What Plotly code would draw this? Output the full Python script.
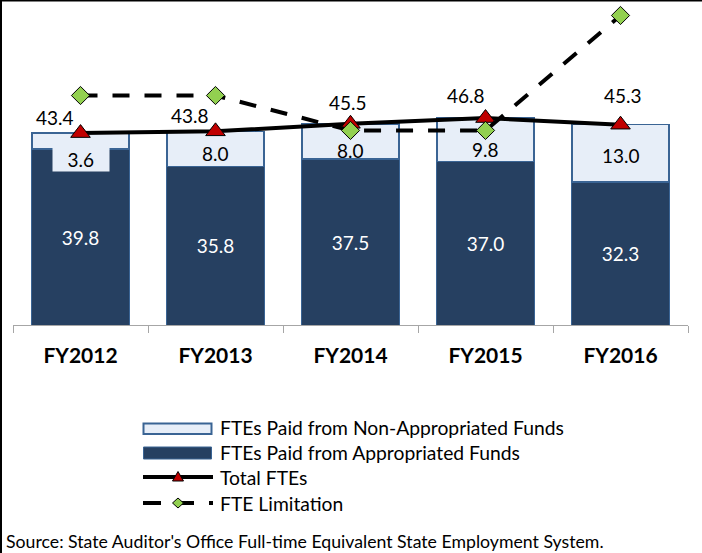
import plotly.graph_objects as go

years = ["FY2012", "FY2013", "FY2014", "FY2015", "FY2016"]
appropriated = [39.8, 35.8, 37.5, 37.0, 32.3]
non_appropriated = [3.6, 8.0, 8.0, 9.8, 13.0]
total_ftes = [43.4, 43.8, 45.5, 46.8, 45.3]
fte_limitation = [51.9, 51.9, 44.0, 44.0, 70.0]

legend_labels = ["FTEs Paid from Non-Appropriated Funds", "FTEs Paid from Appropriated Funds",
                 "Total FTEs", "FTE Limitation"]
source_text = "Source: State Auditor's Office Full-time Equivalent State Employment System."

# label offsets (pixels) - styling only
total_dx = [-26, -26, -3, -20, 2]
total_dy = [16, 16, 21, 23, 29]
non_dy = [-18, -4, -9, -10, -2]

DARK = "#264061"
LIGHT = "#E7EEF8"
EDGE = "#3A6494"
RED = "#C00000"
GREEN = "#92D050"
FONT = "Lato"

W, H = 702, 553
ML, MR, MT, MB = 13, 14, 0, 228
PW, PH = W - ML - MR, H - MT - MB


def X(px):
    return (px - ML) / PW


def Y(py):
    return (MT + PH - py) / PH


fig = go.Figure()
fig.add_trace(go.Bar(
    x=years, y=appropriated, name=legend_labels[1],
    marker=dict(color=DARK, line=dict(color=EDGE, width=1)),
    text=[f"{v:.1f}" for v in appropriated], textposition="inside",
    insidetextanchor="middle", textangle=0,
    textfont=dict(color="white", size=19, family=FONT),
))
fig.add_trace(go.Bar(
    x=years, y=non_appropriated, name=legend_labels[0],
    marker=dict(color=LIGHT, line=dict(color=EDGE, width=1.5)),
))
fig.add_trace(go.Scatter(
    x=years, y=total_ftes, name=legend_labels[2], mode="lines+markers",
    line=dict(color="black", width=4),
    marker=dict(symbol="triangle-up", size=17, color=RED,
                line=dict(color="black", width=1)),
    cliponaxis=False,
))
fig.add_trace(go.Scatter(
    x=years, y=fte_limitation, name=legend_labels[3], mode="lines+markers",
    line=dict(color="black", width=4, dash="17px,15px"),
    marker=dict(symbol="diamond", size=14, color=GREEN,
                line=dict(color="black", width=1)),
    cliponaxis=False,
))

annotations = []
for i, yr in enumerate(years):
    annotations.append(dict(
        x=yr, y=total_ftes[i], xref="x", yref="y", text=f"{total_ftes[i]:.1f}",
        showarrow=False, xshift=total_dx[i], yshift=total_dy[i],
        font=dict(size=19, family=FONT, color="black"),
    ))
    small = non_appropriated[i] < 5
    txt = f"{non_appropriated[i]:.1f}"
    if small:
        txt = "&nbsp;&nbsp;&nbsp;" + txt + "&nbsp;&nbsp;&nbsp;"
    annotations.append(dict(
        x=yr, y=appropriated[i] + non_appropriated[i] / 2, xref="x", yref="y",
        text=txt, showarrow=False, yshift=non_dy[i],
        font=dict(size=19, family=FONT, color="black"),
        bgcolor=LIGHT if small else "rgba(0,0,0,0)", borderpad=0,
    ))

# custom legend text
legend_rows = [427, 452, 477, 503]
for lab, ry in zip(legend_labels, legend_rows):
    annotations.append(dict(
        xref="paper", yref="paper", x=X(218), y=Y(ry), text=lab,
        showarrow=False, xanchor="left", yanchor="middle",
        font=dict(size=19.3, family=FONT, color="black"),
    ))
annotations.append(dict(
    xref="paper", yref="paper", x=X(4), y=Y(541), text=source_text,
    showarrow=False, xanchor="left", yanchor="middle",
    font=dict(size=17.7, family=FONT, color="black"),
))

shapes = [
    # outer border (top and left)
    dict(type="line", xref="paper", yref="paper", x0=X(0), x1=X(W), y0=Y(0.5), y1=Y(0.5),
         line=dict(color="black", width=2)),
    dict(type="line", xref="paper", yref="paper", x0=X(1), x1=X(1), y0=Y(0), y1=Y(H),
         line=dict(color="black", width=2)),
    # legend symbols
    dict(type="rect", xref="paper", yref="paper", x0=X(143.5), x1=X(211.5), y0=Y(434), y1=Y(423.5),
         fillcolor=LIGHT, line=dict(color=EDGE, width=2)),
    dict(type="rect", xref="paper", yref="paper", x0=X(143.5), x1=X(211.5), y0=Y(459), y1=Y(447),
         fillcolor=DARK, line=dict(color=EDGE, width=1)),
    dict(type="line", xref="paper", yref="paper", x0=X(143), x1=X(213), y0=Y(477), y1=Y(477),
         line=dict(color="black", width=4)),
    dict(type="path", xref="paper", yref="paper", xsizemode="pixel", ysizemode="pixel",
         xanchor=X(178), yanchor=Y(477), path="M-5.5,-4 L5.5,-4 L0,5.5 Z",
         fillcolor=RED, line=dict(color="black", width=1)),
    dict(type="line", xref="paper", yref="paper", x0=X(143), x1=X(213), y0=Y(503), y1=Y(503),
         line=dict(color="black", width=4, dash="18px,15px")),
    dict(type="path", xref="paper", yref="paper", xsizemode="pixel", ysizemode="pixel",
         xanchor=X(178), yanchor=Y(503), path="M-5.5,0 L0,5 L5.5,0 L0,-5 Z",
         fillcolor=GREEN, line=dict(color="black", width=1)),
]

fig.update_layout(
    width=W, height=H,
    margin=dict(l=ML, r=MR, t=MT, b=MB, autoexpand=False),
    paper_bgcolor="white", plot_bgcolor="white",
    barmode="stack", bargap=0.28,
    font=dict(family=FONT, color="black"),
    xaxis=dict(
        showline=True, linecolor="#A6A6A6", linewidth=1,
        ticks="outside", ticklen=7, tickcolor="#A6A6A6", tickson="boundaries",
        tickfont=dict(size=21, family=FONT, color="black", weight="bold"),
        ticklabelstandoff=12, showgrid=False, tickangle=0, automargin=False,
    ),
    yaxis=dict(visible=False, range=[0, 73.5]),
    showlegend=False,
    annotations=annotations,
    shapes=shapes,
)
fig.write_html("out.html", config={"displayModeBar": False},
               post_script="document.body.style.margin='0';")
